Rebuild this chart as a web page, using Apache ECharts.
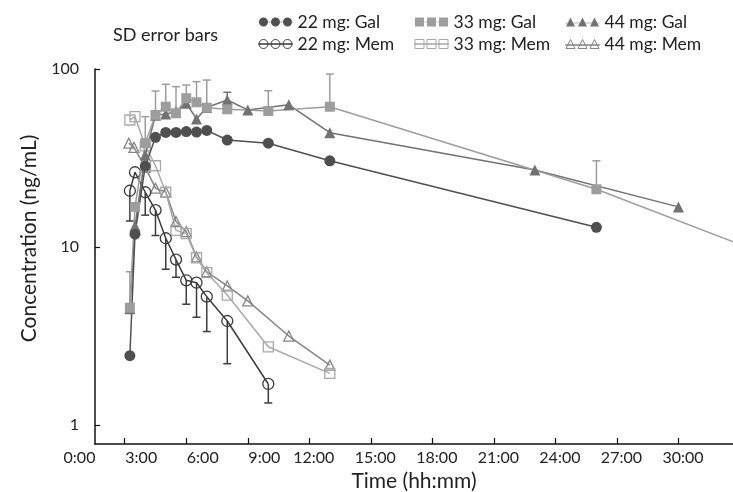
<!DOCTYPE html>
<html><head><meta charset="utf-8">
<script src="https://cdn.jsdelivr.net/npm/echarts@6/dist/echarts.min.js"></script>
<style>html,body{margin:0;padding:0;background:#fff}#c{width:733px;height:492px}</style>
</head><body><div id="c"></div>
<script>
// ---- tick labels ----
const xTickHours = [0, 3, 6, 9, 12, 15, 18, 21, 24, 27, 30];
const xTickLabels = ['0:00','3:00','6:00','9:00','12:00','15:00','18:00','21:00','24:00','27:00','30:00'];
const yTickValues = [1, 10, 100];

// ---- series (time in hours, concentration ng/mL) ----
const tGal22 = [3.25,3.5,4,4.5,5,5.5,6,6.5,7,8,10,13,26];
const cGal22 = [2.45,11.8,28.5,41.3,44.0,44.0,44.5,44.2,45.2,39.9,38.3,30.5,12.9];

const tGal33 = [3.25,3.5,4,4.5,5,5.5,6,6.5,7,8,10,13,26,48];
const cGal33 = [4.56,16.8,38.3,55.2,61.4,56.4,68.5,65.0,60.6,59.4,58.1,61.4,21.1,2.24];
const sdGal33 = [2.7,null,15.7,20.0,20.7,23.2,12.8,19.9,26.1,null,17.4,32.3,9.4,null]; // drawn upward

const tGal44 = [3.25,3.5,4,4.5,5,5.5,6,6.5,7,8,9,11,13,23,30];
const cGal44 = [4.5,13.1,32.9,55,55.9,57.5,64.2,52.4,60.8,67.0,58.9,62.9,43.9,27.1,16.8];
const sdGal44 = [null,null,null,null,null,null,null,null,null,7.0,null,null,null,null,null]; // upward

const tMem22 = [3.25,3.5,4,4.5,5,5.5,6,6.5,7,8,10];
const cMem22 = [20.7,26.3,20.3,16.1,11.2,8.5,6.5,6.3,5.26,3.84,1.70];
const sdMem22 = [6.7,null,5.2,4.5,3.7,1.74,1.73,2.27,1.91,1.63,0.37]; // drawn downward

const tMem33 = [3.25,3.5,4,4.5,5,5.5,6,6.5,7,8,10,13];
const cMem33 = [51.7,54.0,37,28.6,20.3,12.4,11.9,8.7,7.17,5.37,2.75,1.95];

const tMem44 = [3.2,3.45,4,4.5,5,5.5,6,6.5,7,8,9,11,13];
const cMem44 = [38.3,36.3,28,21.4,20.4,13.9,12.2,8.8,7.26,6.04,4.98,3.16,2.17];

const colors = {
  '22 mg: Gal':'#4f4f4f','33 mg: Gal':'#9d9d9d','44 mg: Gal':'#727272',
  '22 mg: Mem':'#3c3c3c','33 mg: Mem':'#a9a9a9','44 mg: Mem':'#858585'
};

const X_MIN = 1.55, X_MAX = 32.66, Y_MIN = 0.782, Y_MAX = 100;
const FONT = 'Lato';

function pairs(t, c){ return t.map((v,i)=>[v, c[i]]); }
function errData(t, c, sd, dir){
  const out = [];
  t.forEach((v,i)=>{ if (sd[i] != null) out.push([v, c[i], c[i] + dir*sd[i]]); });
  return out;
}

const ICON_C = 'path://M0 4.85h34v0.3H0z M0.5 5a4.5 4.5 0 1 1 9 0a4.5 4.5 0 1 1 -9 0z M12.5 5a4.5 4.5 0 1 1 9 0a4.5 4.5 0 1 1 -9 0z M24.5 5a4.5 4.5 0 1 1 9 0a4.5 4.5 0 1 1 -9 0z';
const ICON_S = 'path://M0 4.85h34v0.3H0z M0.5 0.5h9v9h-9z M12.5 0.5h9v9h-9z M24.5 0.5h9v9h-9z';
const ICON_T = 'path://M0 5.85h34v0.3H0z M5 0.5L9.5 9.5H0.5z M17 0.5L21.5 9.5H12.5z M29 0.5L33.5 9.5H24.5z';

function lineSeries(name, t, c, symbol, size, filled){
  const col = colors[name];
  return {
    type:'line', name, data: pairs(t,c), symbol, symbolSize: size,
    showAllSymbol:true, clip:true, z: filled ? 4 : 3,
    lineStyle:{color: col, width:1.5},
    itemStyle: filled ? {color: col, borderWidth:0} : {color:'rgba(255,255,255,0)', borderColor: col, borderWidth:1.3},
    emphasis:{disabled:true}
  };
}
function errSeries(name, data){
  const col = colors[name];
  return {
    type:'custom', name: name + ' SD', data, z:2, silent:true,
    encode:{x:0, y:[1,2]},
    renderItem(params, api){
      const p0 = api.coord([api.value(0), api.value(1)]);
      const p1 = api.coord([api.value(0), api.value(2)]);
      const w = 4;
      return {type:'group', children:[
        {type:'line', shape:{x1:p0[0],y1:p0[1],x2:p1[0],y2:p1[1]}, style:{stroke:col, lineWidth:1.5}},
        {type:'line', shape:{x1:p1[0]-w,y1:p1[1],x2:p1[0]+w,y2:p1[1]}, style:{stroke:col, lineWidth:1.5}}
      ]};
    }
  };
}

function legendItem(name, icon, filled){
  const col = colors[name];
  return {name, icon, itemStyle: filled ? {color:col, borderWidth:0} : {color:'rgba(255,255,255,0)', borderColor:col, borderWidth:1}};
}
const legendBase = {orient:'vertical', top:8, itemWidth:34, itemHeight:10, itemGap:4, selectedMode:false,
  textStyle:{fontSize:17.5, color:'#222', fontFamily:FONT}};

const chart = echarts.init(document.getElementById('c'), null, {renderer:'canvas'});
chart.setOption({
  animation:false,
  textStyle:{fontFamily:FONT},
  title:{text:'SD error bars', left:108, top:21, textStyle:{fontSize:18, fontWeight:'normal', color:'#222', fontFamily:FONT}},
  legend:[
    Object.assign({left:253, data:[legendItem('22 mg: Gal',ICON_C,true), legendItem('22 mg: Mem',ICON_C,false)]}, legendBase),
    Object.assign({left:409, data:[legendItem('33 mg: Gal',ICON_S,true), legendItem('33 mg: Mem',ICON_S,false)]}, legendBase),
    Object.assign({left:560, data:[legendItem('44 mg: Gal',ICON_T,true), legendItem('44 mg: Mem',ICON_T,false)]}, legendBase)
  ],
  grid:{left:95, right:0, top:69, bottom:48, containLabel:false, outerBoundsMode:'none'},
  xAxis:{
    type:'value', min:X_MIN, max:X_MAX,
    axisLine:{show:true, onZero:false, lineStyle:{color:'#111', width:1.5}},
    axisTick:{show:true, inside:true, length:6, customValues: xTickHours.filter(v=>v>=X_MIN), lineStyle:{color:'#111', width:1.2}},
    axisLabel:{
      customValues: [X_MIN].concat(xTickHours.filter(v=>v>=X_MIN)),
      color:'#222', fontSize:16, margin:6,
      formatter(v){
        if (v < 2) return '{m|' + xTickLabels[0] + '}';
        const i = xTickHours.indexOf(Math.round(v));
        const lab = xTickLabels[i];
        return (v < 10 ? '{a|' : '{b|') + lab + '}';
      },
      rich:{
        m:{padding:[0,31,0,0], fontSize:16, color:'#222'},
        a:{padding:[0,0,0,33], fontSize:16, color:'#222'},
        b:{padding:[0,0,0,9], fontSize:16, color:'#222'}
      }
    },
    splitLine:{show:false},
    name:'Time (hh:mm)', nameLocation:'middle', nameGap:27,
    nameTextStyle:{fontSize:21, color:'#222'}
  },
  yAxis:{
    type:'log', logBase:10, min:Y_MIN, max:Y_MAX,
    axisLine:{show:true, lineStyle:{color:'#111', width:1.5}},
    axisTick:{show:true, inside:true, length:5, lineStyle:{color:'#111', width:1.2}},
    axisLabel:{showMinLabel:false, color:'#222', fontSize:16, margin:16,
      formatter(v){ return yTickValues.indexOf(Math.round(v)) >= 0 ? String(Math.round(v)) : ''; }},
    splitLine:{show:false}, minorTick:{show:false},
    name:'Concentration (ng/mL)', nameLocation:'middle', nameGap:55,
    nameTextStyle:{fontSize:21, color:'#222', padding:[0,0,0,36]}
  },
  series:[
    errSeries('33 mg: Gal', errData(tGal33,cGal33,sdGal33,1)),
    errSeries('44 mg: Gal', errData(tGal44,cGal44,sdGal44,1)),
    errSeries('22 mg: Mem', errData(tMem22,cMem22,sdMem22,-1)),
    lineSeries('44 mg: Mem', tMem44, cMem44, 'triangle', 10, false),
    lineSeries('33 mg: Mem', tMem33, cMem33, 'rect', 10, false),
    lineSeries('22 mg: Mem', tMem22, cMem22, 'circle', 11, false),
    lineSeries('44 mg: Gal', tGal44, cGal44, 'triangle', 11, true),
    lineSeries('33 mg: Gal', tGal33, cGal33, 'rect', 10, true),
    lineSeries('22 mg: Gal', tGal22, cGal22, 'circle', 11, true)
  ]
});
</script></body></html>
